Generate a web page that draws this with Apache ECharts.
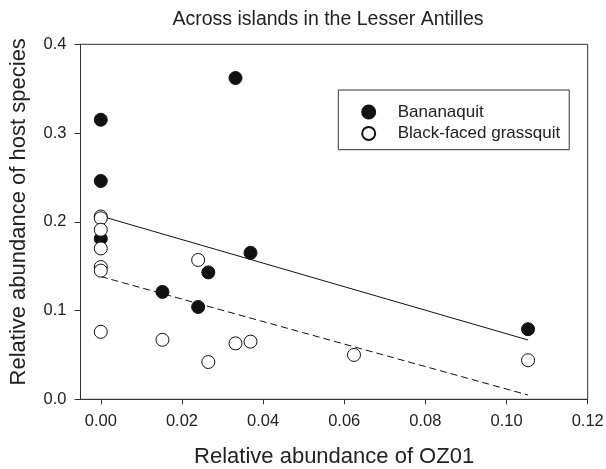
<!DOCTYPE html>
<html>
<head>
<meta charset="utf-8">
<script src="https://cdn.jsdelivr.net/npm/echarts@6/dist/echarts.min.js"></script>
<style>
html,body{margin:0;padding:0;background:#fff;}
#chart{width:606px;height:469px;}
</style>
</head>
<body>
<div id="chart"></div>
<script>
var titleText = 'Across islands in the Lesser Antilles';
var xAxisTitle = 'Relative abundance of OZ01';
var yAxisTitle = 'Relative abundance of host species';
var seriesNames = ['Bananaquit', 'Black-faced grassquit'];

var xTicks = [0, 0.02, 0.04, 0.06, 0.08, 0.10, 0.12];

var bananaquitX = [0, 0, 0, 0.0332, 0.0369, 0.0265, 0.0152, 0.024, 0.1053];
var bananaquitY = [0.315, 0.246, 0.181, 0.362, 0.165, 0.143, 0.121, 0.104, 0.079];

var grassquitX = [0, 0, 0, 0, 0, 0, 0, 0.024, 0.0152, 0.0265, 0.0332, 0.0369, 0.0624, 0.1053];
var grassquitY = [0.206, 0.204, 0.191, 0.170, 0.149, 0.145, 0.076, 0.157, 0.067, 0.042, 0.063, 0.065, 0.050, 0.044];

var bananaquitFitX = [0, 0.1053];
var bananaquitFitY = [0.2065, 0.0668];
var grassquitFitX = [0, 0.1053];
var grassquitFitY = [0.1383, 0.0048];

function pairs(xs, ys) { return xs.map(function (x, i) { return [x, ys[i]]; }); }

var FONT = "'Liberation Sans', Arial, sans-serif";
var TXT = '#222';

var chart = echarts.init(document.getElementById('chart'), null, {renderer: 'canvas'});
chart.setOption({
  animation: false,
  backgroundColor: '#fff',
  title: {
    text: titleText,
    left: 323, top: 5, textAlign: 'center',
    textStyle: {fontFamily: FONT, fontSize: 19.5, fontWeight: 'normal', color: TXT}
  },
  grid: {
    left: 80.5, right: 18.3, top: 44.3, bottom: 69.7,
    outerBoundsMode: 'none', containLabel: false,
    show: true, borderColor: '#333', borderWidth: 1, backgroundColor: 'transparent'
  },
  legend: {
    orient: 'vertical',
    left: 338.3, top: 90,
    padding: [13.5, 9, 7.8, 22.9],
    itemWidth: 13, itemHeight: 13, itemGap: 4.4,
    borderColor: '#333', borderWidth: 1,
    textStyle: {fontFamily: FONT, fontSize: 17, color: TXT, lineHeight: 13, padding: [0, 0, 0, 17.5]},
    data: [
      {name: seriesNames[0], icon: 'circle'},
      {name: seriesNames[1], icon: 'circle'}
    ]
  },
  xAxis: {
    type: 'value', min: -0.005, max: 0.12,
    name: xAxisTitle, nameLocation: 'middle', nameGap: 47,
    nameTextStyle: {fontFamily: FONT, fontSize: 22, color: TXT},
    axisLine: {show: true, onZero: false, lineStyle: {color: '#333', width: 1}},
    axisTick: {show: true, length: 5, inside: false, customValues: xTicks, lineStyle: {color: '#333'}},
    axisLabel: {
      customValues: xTicks, margin: 14,
      fontFamily: FONT, fontSize: 16.5, color: TXT,
      formatter: function (v) { return v.toFixed(2); }
    },
    splitLine: {show: false}
  },
  yAxis: {
    type: 'value', min: 0, max: 0.4, interval: 0.1,
    name: yAxisTitle, nameLocation: 'middle', nameGap: 51,
    nameTextStyle: {fontFamily: FONT, fontSize: 22, color: TXT, padding: [0, 0, 0, 20]},
    axisLine: {show: true, onZero: false, lineStyle: {color: '#333', width: 1}},
    axisTick: {show: true, length: 6, inside: false, lineStyle: {color: '#333'}},
    axisLabel: {
      margin: 14, fontFamily: FONT, fontSize: 16.5, color: TXT,
      formatter: function (v) { return v.toFixed(1); }
    },
    splitLine: {show: false}
  },
  series: [
    {
      type: 'line', name: 'fit1', data: pairs(bananaquitFitX, bananaquitFitY),
      symbol: 'none', lineStyle: {color: '#111', width: 1, type: 'solid'}, z: 1, silent: true
    },
    {
      type: 'line', name: 'fit2', data: pairs(grassquitFitX, grassquitFitY),
      symbol: 'none', lineStyle: {color: '#111', width: 1, type: [7, 4]}, z: 1, silent: true
    },
    {
      type: 'scatter', name: seriesNames[0], data: pairs(bananaquitX, bananaquitY),
      symbol: 'circle', symbolSize: 13,
      itemStyle: {color: '#111', borderColor: '#111', borderWidth: 1, opacity: 1}, z: 2
    },
    {
      type: 'scatter', name: seriesNames[1], data: pairs(grassquitX, grassquitY),
      symbol: 'circle', symbolSize: 13,
      itemStyle: {color: '#fff', borderColor: '#111', borderWidth: 1, opacity: 1}, z: 3
    }
  ]
});
</script>
</body>
</html>
